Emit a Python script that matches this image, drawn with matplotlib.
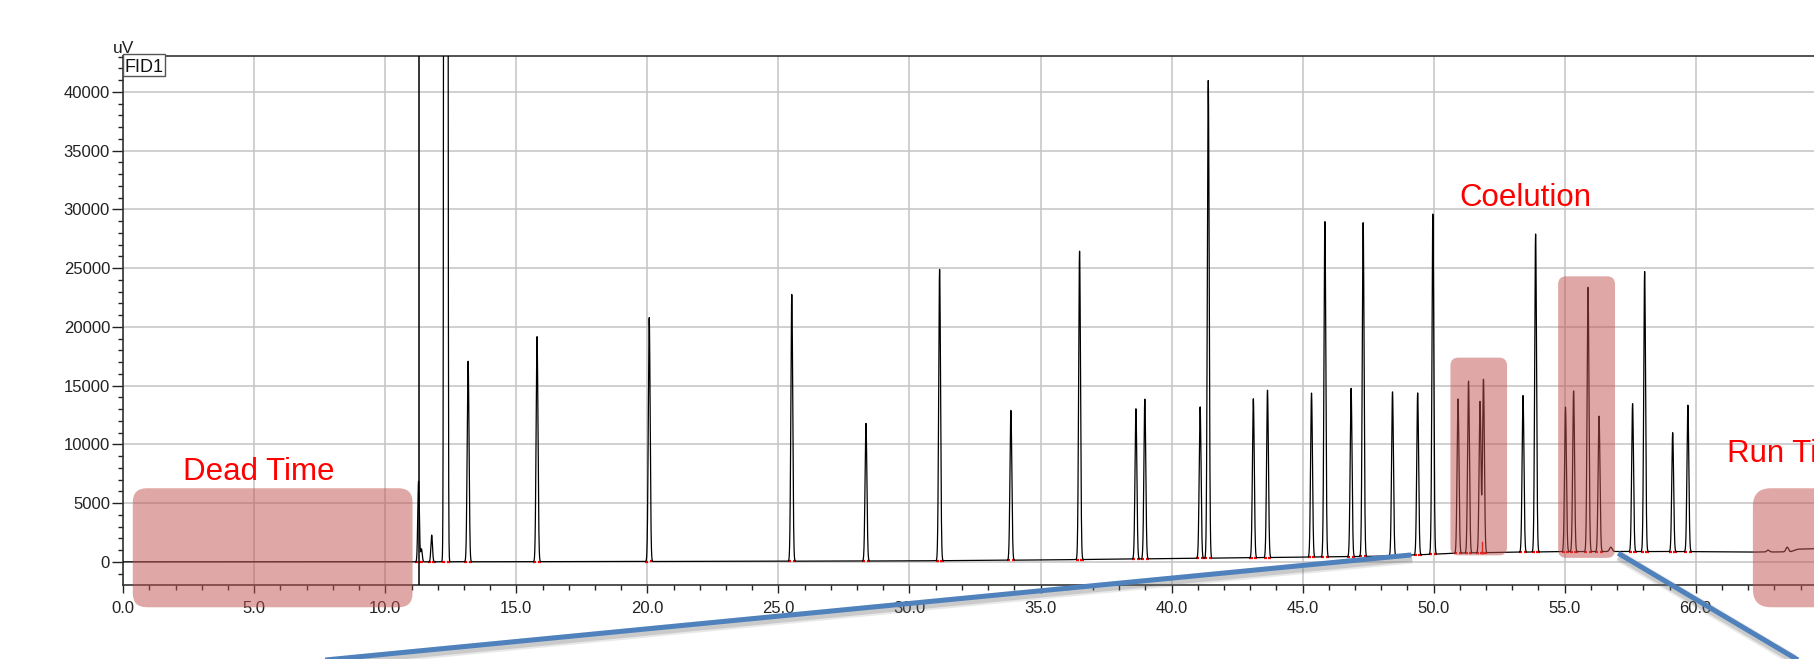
import numpy as np
import matplotlib
matplotlib.use("Agg")
import matplotlib.pyplot as plt
from matplotlib.patches import FancyBboxPatch, Rectangle
from matplotlib.transforms import IdentityTransform
from matplotlib.ticker import MultipleLocator, FormatStrFormatter
from matplotlib import font_manager

# ---------------- data ----------------
# baseline drift knots (min, uV)
base_t = [0, 11, 20, 30, 35, 40, 45, 48, 50, 51, 53, 55, 57, 60, 62, 63.6, 63.9, 64.6]
base_v = [0, 0, 30, 80, 160, 280, 400, 480, 650, 750, 820, 870, 880, 870, 830, 850, 1080, 1120]

# peak retention times (min) and apex signal (uV)
peak_t = [11.27, 11.38, 11.77, 12.31, 13.16, 15.79, 20.07, 25.51, 28.34, 31.15,
          33.87, 36.49, 38.64, 38.98, 41.09, 41.40, 43.12, 43.66, 45.34, 45.85,
          46.85, 47.31, 48.43, 49.39, 49.97, 50.93, 51.33, 51.77, 51.90, 53.41,
          53.89, 55.03, 55.34, 55.89, 56.31, 56.76, 57.59, 58.05, 59.12, 59.70,
          62.76, 63.49]
peak_v = [6880, 1100, 2280, 2000000, 17070, 19200, 20815, 22790, 11780, 24924,
          12903, 26476, 13025, 13846, 13208, 40962, 13877, 14608, 14364, 29002,
          14790, 28910, 14485, 14394, 29640, 13877, 15400, 13664, 15520, 14181,
          27937, 13178, 14547, 23400, 12416, 1250, 13480, 24740, 10990, 13330,
          1000, 1250]
peak_w = [0.03, 0.03, 0.03, 0.0325, 0.035, 0.035, 0.035, 0.035, 0.035, 0.035,
          0.035, 0.035, 0.035, 0.035, 0.035, 0.035, 0.035, 0.035, 0.035, 0.035,
          0.035, 0.035, 0.035, 0.035, 0.035, 0.035, 0.035, 0.035, 0.035, 0.035,
          0.035, 0.035, 0.035, 0.035, 0.035, 0.05, 0.035, 0.035, 0.035, 0.035,
          0.05, 0.05]

# event marker (off-scale trace line) and drop line
event_t = [11.27]
drop_t = [51.83]
drop_v = [1700]

# annotation regions: (t0, t1, v0, v1)
dead_box = (0.366, 11.04, -3864, 6264)
coel_boxes = [(50.64, 52.80, 553, 17380), (54.75, 56.92, 340, 24300)]
run_box = (62.18, 67.0, -3864, 6264)

labels = ["Dead Time", "Coelution", "Run Time"]
label_pos = [(2.29, 6970), (51.0, 30255), (61.21, 8500)]

# callout connector lines (t, v) pairs
callout1 = [(49.14, 587), (6.9, -8527)]
callout2 = [(57.04, 732), (65.12, -9966)]

x_major = 5
y_major = 5000

# ---------------- build figure ----------------
W, H = 1815, 659
fig = plt.figure(figsize=(W / 100, H / 100), dpi=100)
left_px, top_px, bot_px = 123.2, 56.0, 585.0
ax = fig.add_axes([left_px / W, 1 - bot_px / H, 1 - left_px / W, (bot_px - top_px) / H])

avail = {f.name for f in font_manager.fontManager.ttflist}
narrow = "Liberation Sans Narrow" if "Liberation Sans Narrow" in avail else "Liberation Sans"
tick_fs = 13 if narrow == "Liberation Sans Narrow" else 12

ax.set_xlim(0, 64.55)
ax.set_ylim(-1970, 43050)

# trace
t = np.arange(0, 64.6, 0.004)
base = np.interp(t, base_t, base_v)
sig = base.copy()
for pt, pv, pw in zip(peak_t, peak_v, peak_w):
    h = pv - np.interp(pt, base_t, base_v)
    sig += h * np.exp(-0.5 * ((t - pt) / pw) ** 2)

# red integration marks at peak feet
for pt, pv in zip(peak_t, peak_v):
    if pv < 2000:
        continue
    for side in (-1, 1):
        x0 = pt + side * 0.09
        b = np.interp(x0, base_t, base_v)
        ax.plot([x0 - 0.06, x0 + 0.06], [b, b], color="red", lw=1.6, zorder=2,
                solid_capstyle="butt")
for dt, dv in zip(drop_t, drop_v):
    b = np.interp(dt, base_t, base_v)
    ax.plot([dt, dt], [b, dv], color="red", lw=1.0, zorder=2)

ax.plot(t, sig, color="black", lw=0.9, zorder=3)
for et in event_t:
    ax.axvline(et, color="black", lw=1.1, zorder=3)

# axes styling
ax.xaxis.set_major_locator(MultipleLocator(x_major))
ax.xaxis.set_minor_locator(MultipleLocator(1))
ax.yaxis.set_major_locator(MultipleLocator(y_major))
ax.yaxis.set_minor_locator(MultipleLocator(1000))
ax.xaxis.set_major_formatter(FormatStrFormatter("%.1f"))
ax.yaxis.set_major_formatter(FormatStrFormatter("%d"))
ax.grid(True, which="major", color="#c4c4c4", lw=1.1, zorder=0)
ax.set_axisbelow(True)
ax.spines["right"].set_visible(False)
for s in ("left", "bottom", "top"):
    ax.spines[s].set_color("#333333")
    ax.spines[s].set_linewidth(1.2)
ax.tick_params(axis="x", which="major", length=5.8, width=1, pad=5.5, colors="#222222",
               labelsize=tick_fs)
ax.tick_params(axis="x", which="minor", length=3.4, width=1, colors="#222222")
ax.tick_params(axis="y", which="major", length=8, width=1, pad=1.5, colors="#222222",
               labelsize=tick_fs)
ax.tick_params(axis="y", which="minor", length=3.9, width=1, colors="#222222")
for lab in ax.get_xticklabels() + ax.get_yticklabels():
    lab.set_family([narrow, "DejaVu Sans"])

# "uV" label and FID1 box
fig.text(113 / W, 1 - 52.7 / H, "uV", fontsize=tick_fs + 0.5, family=[narrow, "DejaVu Sans"],
         ha="left", va="baseline", color="#222222")
fig.patches.append(Rectangle((left_px, H - 76), 41.4, 21.7, transform=IdentityTransform(),
                             facecolor="white", edgecolor="#555555", lw=1.0, zorder=5))
fig.text(124.5 / W, 1 - 72.3 / H, "FID1", fontsize=tick_fs + 1,
         family=[narrow, "DejaVu Sans"], ha="left", va="baseline", color="#111111", zorder=6)

fig.canvas.draw()

def to_px(tv):
    return ax.transData.transform(tv)

def add_box(b, rad):
    (x0, y0) = to_px((b[0], b[2]))
    (x1, y1) = to_px((b[1], b[3]))
    p = FancyBboxPatch((x0 + rad, y0 + rad), (x1 - x0) - 2 * rad, (y1 - y0) - 2 * rad,
                       boxstyle="round,pad=%f" % rad, transform=IdentityTransform(),
                       facecolor="#C0504D", alpha=0.5, edgecolor="none", zorder=10)
    fig.patches.append(p)

add_box(dead_box, 14)
for b in coel_boxes:
    add_box(b, 8)
add_box(run_box, 18)

for lab, (lx, ly) in zip(labels, label_pos):
    ax.text(lx, ly, lab, color="red", fontsize=22.5, family=["Liberation Sans", "DejaVu Sans"],
            ha="left", va="baseline", clip_on=False, zorder=12)

for cl in (callout1, callout2):
    pts = np.array([to_px(p) for p in cl])
    for off, a, lw in ((3.0, 0.15, 8), (2.5, 0.25, 6)):
        shadow = pts + np.array([1.0, -off])
        fig.lines.append(plt.Line2D(shadow[:, 0], shadow[:, 1], transform=IdentityTransform(),
                                    color="#707070", alpha=a, lw=lw, zorder=11,
                                    solid_capstyle="butt"))
    fig.lines.append(plt.Line2D(pts[:, 0], pts[:, 1], transform=IdentityTransform(),
                                color="#4F81BD", lw=3.6, zorder=12, solid_capstyle="butt"))

fig.savefig("out.png", dpi=100)
